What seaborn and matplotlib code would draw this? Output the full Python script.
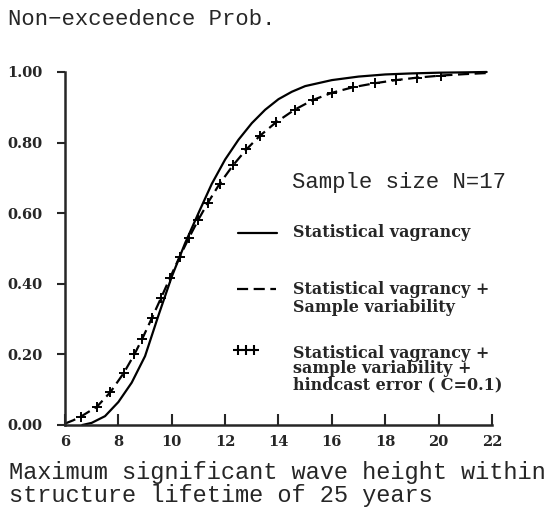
import matplotlib
matplotlib.use("Agg")
import matplotlib.pyplot as plt
from matplotlib.lines import Line2D
import seaborn as sns

# statistical vagrancy (solid)
sv_x = [6.65, 7.0, 7.5, 8.0, 8.5, 9.0, 9.5, 10.0, 10.5, 11.0, 11.5, 12.0, 12.5,
        13.0, 13.5, 14.0, 14.5, 15.0, 16.0, 17.0, 18.0, 19.0, 20.0, 21.0, 21.8]
sv_y = [0.0, 0.006, 0.025, 0.065, 0.12, 0.195, 0.31, 0.42, 0.515, 0.60, 0.683, 0.752, 0.808,
        0.855, 0.893, 0.923, 0.944, 0.96, 0.977, 0.987, 0.993, 0.996, 0.998, 0.999, 1.0]

# + sample variability (dashed)
ss_x = [6.0, 6.3, 6.6, 7.2, 7.7, 8.2, 8.6, 8.9, 9.25, 9.6, 9.93, 10.3, 10.65, 11.0, 11.35,
        11.8, 12.3, 12.8, 13.3, 13.9, 14.6, 15.3, 16.0, 16.8, 17.6, 18.4, 19.2, 20.1, 21.0, 21.8]
ss_y = [0.004, 0.013, 0.024, 0.052, 0.093, 0.147, 0.200, 0.245, 0.302, 0.360, 0.416, 0.477,
        0.531, 0.582, 0.629, 0.684, 0.736, 0.781, 0.819, 0.857, 0.893, 0.921, 0.941, 0.957,
        0.968, 0.977, 0.984, 0.990, 0.994, 0.997]

# + hindcast error (C=0.1), crosses
hc_x = [6.6, 7.2, 7.7, 8.2, 8.6, 8.9, 9.25, 9.6, 9.93, 10.3, 10.65, 11.0, 11.35, 11.8,
        12.3, 12.8, 13.3, 13.9, 14.6, 15.3, 16.0, 16.8, 17.6, 18.4, 19.2, 20.1]
hc_y = [0.024, 0.052, 0.093, 0.147, 0.200, 0.245, 0.302, 0.360, 0.416, 0.477, 0.531, 0.582,
        0.629, 0.684, 0.736, 0.781, 0.819, 0.857, 0.893, 0.921, 0.941, 0.957, 0.968, 0.977,
        0.984, 0.990]

x_ticks = [6, 8, 10, 12, 14, 16, 18, 20, 22]
y_ticks = [0.0, 0.2, 0.4, 0.6, 0.8, 1.0]

sns.set_style("ticks")
plt.rcParams['font.family'] = ['Liberation Mono', 'DejaVu Sans Mono', 'DejaVu Sans']
bold_serif = dict(family='DejaVu Serif', fontweight='bold')

fig = plt.figure(figsize=(5.54, 5.08), dpi=100)
ax = fig.add_axes([0.1173, 0.1634, 0.7708, 0.6949])

sns.lineplot(x=sv_x, y=sv_y, color='black', lw=1.6, estimator=None, ax=ax)
sns.lineplot(x=ss_x, y=ss_y, color='black', lw=1.6, estimator=None, ax=ax,
             linestyle=(0, (5, 2.5)))
sns.scatterplot(x=hc_x, y=hc_y, marker='+', s=45, color='black', linewidth=1.4, ax=ax)
for l in ax.lines:
    l.set_clip_on(False)

ax.set_xlim(6, 22)
ax.set_ylim(0, 1)
ax.set_xticks(x_ticks)
ax.set_xticklabels([str(t) for t in x_ticks], fontsize=10.5, **bold_serif)
ax.set_yticks(y_ticks)
ax.set_yticklabels(['%.2f' % t for t in y_ticks], fontsize=10.5, **bold_serif)
ax.tick_params(axis='x', direction='in', length=8, width=1.5, pad=7)
ax.tick_params(axis='y', direction='out', length=6, width=1.5, pad=10)
sns.despine(ax=ax)
for s in ['left', 'bottom']:
    ax.spines[s].set_linewidth(1.8)

ax.set_title("Non\u2212exceedence Prob.", loc='left', x=-0.133, y=1.133, pad=0, fontsize=16)
ax.set_xlabel("Maximum significant wave height within\nstructure lifetime of 25 years",
              fontsize=17, ha='left', va='top', linespacing=1.0)
ax.xaxis.set_label_coords(-0.131, -0.102)

# legend block
ax.text(0.532, 0.688, "Sample size N=17", fontsize=16, va='center', transform=ax.transAxes)
ax.add_line(Line2D([0.405, 0.496], [0.544, 0.544], color='black', lw=1.6,
                   transform=ax.transAxes, clip_on=False))
ax.text(0.534, 0.544, "Statistical vagrancy", fontsize=11.5, va='center',
        transform=ax.transAxes, **bold_serif)
ax.add_line(Line2D([0.403, 0.494], [0.385, 0.385], color='black', lw=1.6,
                   linestyle=(0, (5, 2.5)), transform=ax.transAxes, clip_on=False))
ax.text(0.534, 0.408, "Statistical vagrancy +\nSample variability", fontsize=11.5,
        va='top', linespacing=1.1, transform=ax.transAxes, **bold_serif)
ax.add_line(Line2D([0.405, 0.424, 0.443], [0.212, 0.212, 0.212], color='black',
                   linestyle='none', marker='+', ms=7, mew=1.5,
                   transform=ax.transAxes, clip_on=False))
ax.text(0.534, 0.2266,
        "Statistical vagrancy +\nsample variability +\nhindcast error ( C=0.1)",
        fontsize=11.5, va='top', linespacing=0.88, transform=ax.transAxes, **bold_serif)

fig.savefig("out.png", dpi=100)
